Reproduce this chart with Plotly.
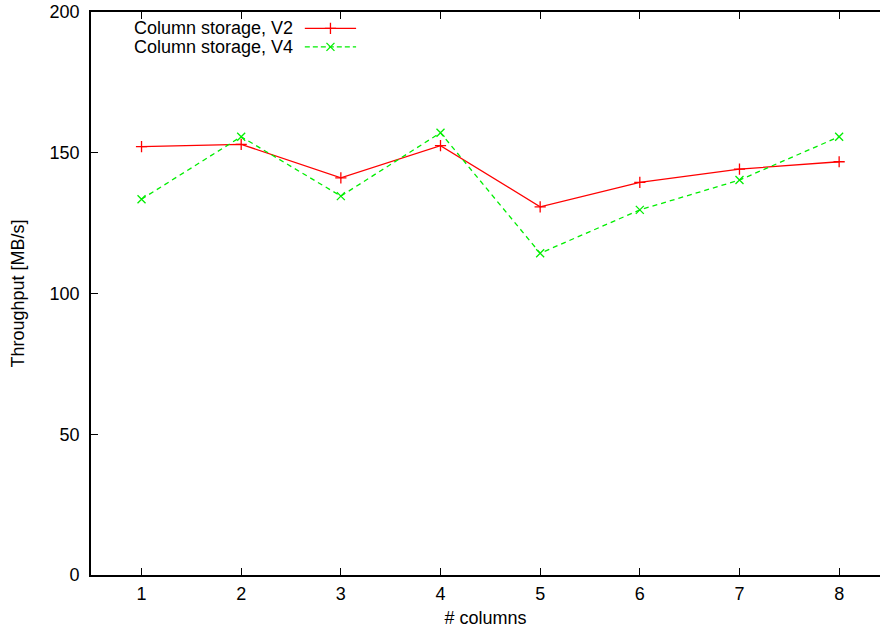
import plotly.graph_objects as go

# Throughput measured for 1..8 columns
columns = [1, 2, 3, 4, 5, 6, 7, 8]
v2_throughput = [152.2, 153.0, 141.1, 152.5, 130.8, 139.5, 144.2, 146.8]
v4_throughput = [133.5, 155.7, 134.6, 157.1, 114.3, 129.7, 140.3, 155.7]
series_names = ["Column storage, V2", "Column storage, V4"]
y_ticks = [0, 50, 100, 150, 200]

RED = "#ff0000"
GREEN = "#00ee00"
FONT = "Liberation Sans, Arial, sans-serif"
FS = 18

fig = go.Figure()

fig.add_trace(go.Scatter(
    x=columns, y=v2_throughput, mode="lines+markers", name=series_names[0],
    line=dict(color=RED, width=1.3),
    marker=dict(symbol="cross-thin-open", size=8, color=RED,
                line=dict(color=RED, width=1.3)),
    showlegend=False,
))
fig.add_trace(go.Scatter(
    x=columns, y=v4_throughput, mode="lines+markers", name=series_names[1],
    line=dict(color=GREEN, width=1.3, dash="5px,4px"),
    marker=dict(symbol="x-thin-open", size=8, color=GREEN,
                line=dict(color=GREEN, width=1.3)),
    showlegend=False,
))

# Gnuplot-style key: label on the left, line sample on the right,
# drawn on an overlay axis spanning the plotting area (0..1 each way).
key_rows = [0.971, 0.938]
key_styles = [
    (RED, "solid", "cross-thin-open"),
    (GREEN, "5px,3px", "x-thin-open"),
]
sample_x0, sample_x1 = 0.271, 0.336
for name, ky, (col, dash, sym) in zip(series_names, key_rows, key_styles):
    fig.add_trace(go.Scatter(
        x=[sample_x0, sample_x1], y=[ky, ky], mode="lines",
        line=dict(color=col, width=1.3, dash=dash),
        xaxis="x2", yaxis="y2", showlegend=False, hoverinfo="skip",
    ))
    fig.add_trace(go.Scatter(
        x=[(sample_x0 + sample_x1) / 2], y=[ky], mode="markers",
        marker=dict(symbol=sym, size=8, color=col, line=dict(color=col, width=1.3)),
        xaxis="x2", yaxis="y2", showlegend=False, hoverinfo="skip",
    ))
    fig.add_annotation(
        x=sample_x0 - 0.013, y=ky, xref="x2", yref="y2", text=name,
        showarrow=False, xanchor="right", yanchor="middle",
        font=dict(family=FONT, size=FS, color="#000"),
    )

axis_common = dict(
    showgrid=False, zeroline=False, showline=True, linecolor="#000",
    linewidth=1.6, ticks="inside", ticklen=7, tickwidth=1.2, tickcolor="#000",
    tickfont=dict(family=FONT, size=FS, color="#000"),
)

fig.update_layout(
    width=880, height=632,
    margin=dict(l=91, r=0, t=12, b=57),
    paper_bgcolor="white", plot_bgcolor="white",
    font=dict(family=FONT, size=FS, color="#000"),
    xaxis=dict(
        range=[0.493, 8.41], tickvals=columns, mirror="ticks",
        ticklabelstandoff=2,
        title=dict(text="# columns", font=dict(family=FONT, size=FS), standoff=8),
        **axis_common,
    ),
    yaxis=dict(
        range=[0, 200], tickvals=y_ticks, mirror=False,
        ticklabelstandoff=6,
        title=dict(text="Throughput [MB/s]", font=dict(family=FONT, size=FS), standoff=20),
        **axis_common,
    ),
    xaxis2=dict(overlaying="x", range=[0, 1], visible=False, fixedrange=True),
    yaxis2=dict(overlaying="y", range=[0, 1], visible=False, fixedrange=True),
)

fig.write_html("out.html")
